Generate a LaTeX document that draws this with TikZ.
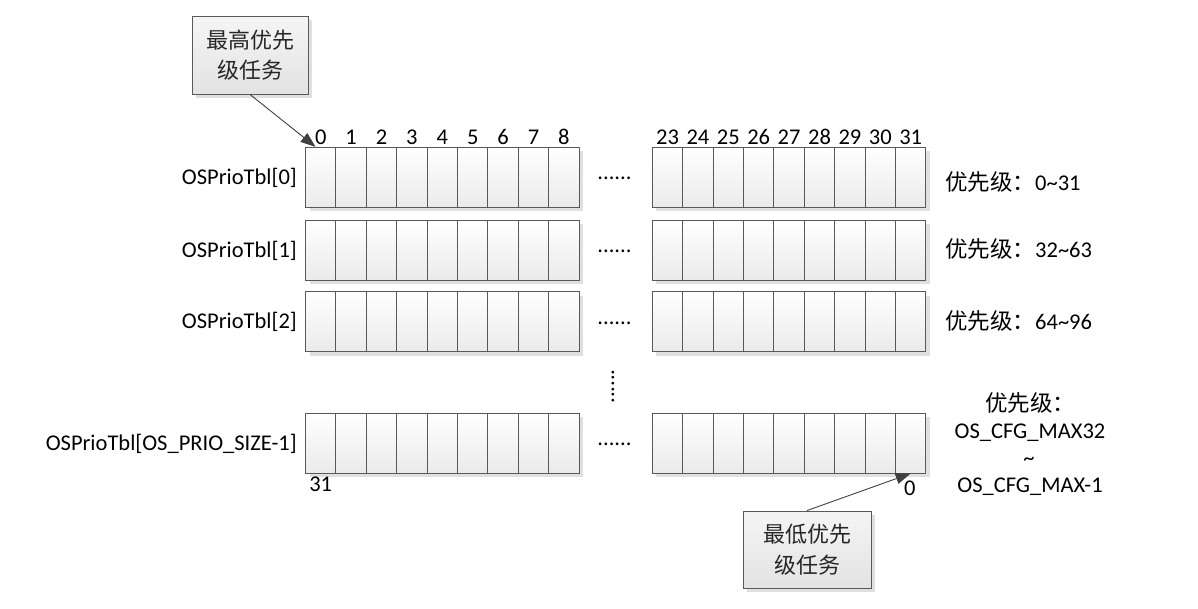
\documentclass[tikz,border=0pt]{standalone}
\usepackage{fontspec}
\setmainfont{Carlito}
\newfontfamily\cjk{Noto Sans CJK SC}
\usetikzlibrary{arrows.meta,shadows,calc}
\tikzset{
  cell/.style={draw=black!65, line width=0.9pt, minimum width=30.4pt, minimum height=60pt,
    inner sep=0pt, top color=white, bottom color=black!8,
    general shadow={fill=black!12, shadow xshift=4pt, shadow yshift=-4pt}},
  callout/.style={draw=black!65, line width=0.9pt, inner sep=0pt, align=center,
    top color=black!4, bottom color=black!11, text=black!85,
    font=\cjk\fontsize{22}{30.5}\selectfont,
    general shadow={fill=black!12, shadow xshift=4pt, shadow yshift=-4pt}},
  lab/.style={inner sep=0pt, font=\fontsize{22.5}{26}\selectfont},
  cjklab/.style={inner sep=0pt, font=\fontsize{22.5}{26}\selectfont},
  pointer/.style={draw=black!75, line width=0.9pt, -{Triangle[length=15pt,width=11pt]}}
}
\begin{document}
\begin{tikzpicture}[x=1pt,y=-1pt]
\useasboundingbox (0,0) rectangle (1198,608);
% cells
\foreach \r/\yc in {0/177.3,1/250,2/321.5,3/443}{
  \foreach \i in {0,...,8}{
    \pgfmathtruncatemacro\k{\i+9}
    \node[cell] (c-\r-\i) at ({320.7+30.4*\i},\yc) {};
    \node[cell] (c-\r-\k) at ({667.5+30.4*\i},\yc) {};
  }
  \node[lab,anchor=base] (dots-\r) at (614.5,{\yc+2.5}) {......};
}
% column numbers
\foreach \i in {0,...,8}{
  \pgfmathtruncatemacro\k{\i+9}
  \pgfmathtruncatemacro\n{\i+23}
  \node[lab,anchor=base] (tl-\i) at ($(c-0-\i.north)+(0,-2.5)$) {\i};
  \node[lab,anchor=base] (tr-\i) at ($(c-0-\k.north)+(0,-2.5)$) {\n};
}
% vertical dots
\node[lab,rotate=90] (vdots) at (613,386.5) {......};
% row labels
\node[lab,anchor=base east] (row0) at ($(c-0-0.west)+(-8,7.3)$) {OSPrioTbl[0]};
\node[lab,anchor=base east] (row1) at ($(c-1-0.west)+(-8,7.3)$) {OSPrioTbl[1]};
\node[lab,anchor=base east] (row2) at ($(c-2-0.west)+(-8,7.3)$) {OSPrioTbl[2]};
\node[lab,anchor=base east] (row3) at ($(c-3-0.west)+(-8,7.3)$) {OSPrioTbl[OS\_PRIO\_SIZE-1]};
% right labels
\node[cjklab,anchor=base west] (p0) at (945,190) {{\cjk 优先级：}0\textasciitilde 31};
\node[cjklab,anchor=base west] (p1) at (945,257.7) {{\cjk 优先级：}32\textasciitilde 63};
\node[cjklab,anchor=base west] (p2) at (945,329.3) {{\cjk 优先级：}64\textasciitilde 96};
\node[cjklab,anchor=base] (p3a) at (1030,411) {\cjk 优先级：};
\node[lab,anchor=base] (p3b) at (1030,438) {OS\_CFG\_MAX32};
\node[lab,anchor=base] (p3c) at (1029,465) {\textasciitilde};
\node[lab,anchor=base] (p3d) at (1030,492) {OS\_CFG\_MAX-1};
% bottom numbers
\node[lab,anchor=base] (n31) at ($(c-3-0.south)+(0,18)$) {31};
\node[lab,anchor=base] (n0) at ($(c-3-17.south)+(-1,22)$) {0};
% callouts
\node[callout,minimum width=116pt,minimum height=78pt] (top) at (250,55) {最高优先\\级任务};
\node[callout,minimum width=128pt,minimum height=77pt] (bot) at (807,549.5) {最低优先\\级任务};
\draw[pointer] (top.south) -- ($(c-0-0.north west)+(10.5,0)$);
\draw[pointer] (bot.north) -- (c-3-17.south);
\end{tikzpicture}
\end{document}
